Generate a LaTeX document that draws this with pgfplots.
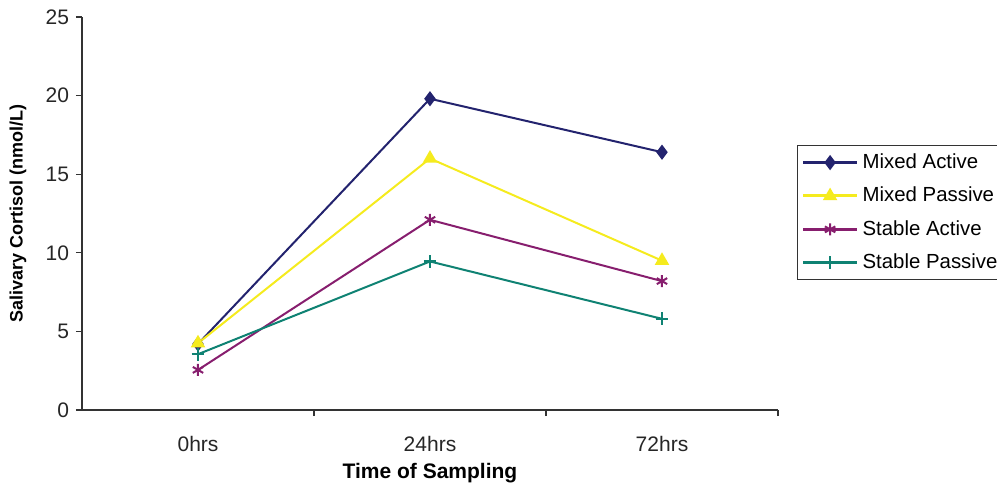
\documentclass[border=0pt]{standalone}
\usepackage{fontspec}
\setmainfont{Liberation Sans}
\usepackage{pgfplots}
\pgfplotsset{compat=1.18}
\definecolor{cnavy}{RGB}{35,35,110}
\definecolor{cyel}{RGB}{245,235,30}
\definecolor{cpurp}{RGB}{135,30,110}
\definecolor{cteal}{RGB}{15,130,115}
\begin{document}
\begin{tikzpicture}[x=1pt,y=1pt]
\useasboundingbox (0,0) rectangle (498.5,244.5);
\begin{axis}[
  at={(41pt,39.5pt)}, anchor=south west,
  scale only axis, width=348pt, height=196.5pt,
  xmin=-0.5, xmax=2.5, ymin=0, ymax=25,
  axis x line=bottom, axis y line=left,
  axis line style={-, line width=0.6pt, black!80},
  xtick={0,1,2}, xticklabels={0hrs,24hrs,72hrs},
  minor xtick={0.5,1.5,2.5},
  major x tick style={draw=none},
  minor tick length=3pt,
  ytick={0,5,...,25}, major tick length=3pt,
  tick align=outside,
  tick style={black!80, line width=0.6pt},
  /pgf/number format/assume math mode=true,
  tick label style={font=\fontsize{10.5}{12}\selectfont, text=black!85},
  xticklabel style={yshift=-6.5pt},
  xlabel={\textbf{Time of Sampling}},
  xlabel style={font=\fontsize{10.5}{12}\selectfont, at={(axis description cs:0.5,-0.16)}, anchor=center},
  ylabel={\textbf{Salivary Cortisol (nmol/L)}},
  ylabel style={font=\fontsize{9}{11}\selectfont, at={(axis description cs:-0.092,0.5)}, anchor=center},
  legend style={at={(axis description cs:1.0273,0.674)}, anchor=north west,
    font=\fontsize{10.2}{12}\selectfont, draw=black!80, line width=0.6pt,
    row sep=3.8pt, inner sep=2pt, cells={anchor=west}},
  legend image code/.code={\draw[#1, line width=1.5pt] (0pt,0pt) -- (27pt,0pt); \draw[#1,mark repeat=2,mark phase=2] plot coordinates {(0pt,0pt) (13.5pt,0pt) (27pt,0pt)};},
]
\addplot[cnavy, line width=1pt, mark=diamond*, mark size=3pt, mark options={fill=cnavy}] coordinates {(0,4.2) (1,19.8) (2,16.4)};
\addlegendentry{Mixed Active}
\addplot[cyel, line width=1pt, mark=triangle*, mark size=3.2pt, mark options={fill=cyel}] coordinates {(0,4.25) (1,16.0) (2,9.5)};
\addlegendentry{Mixed Passive}
\addplot[cpurp, line width=1pt, mark=asterisk, mark size=3pt] coordinates {(0,2.55) (1,12.1) (2,8.2)};
\addlegendentry{Stable Active}
\addplot[cteal, line width=1pt, mark=+, mark size=3.2pt, mark options={line width=1.2pt}] coordinates {(0,3.55) (1,9.45) (2,5.8)};
\addlegendentry{Stable Passive}
\end{axis}
\end{tikzpicture}
\end{document}
